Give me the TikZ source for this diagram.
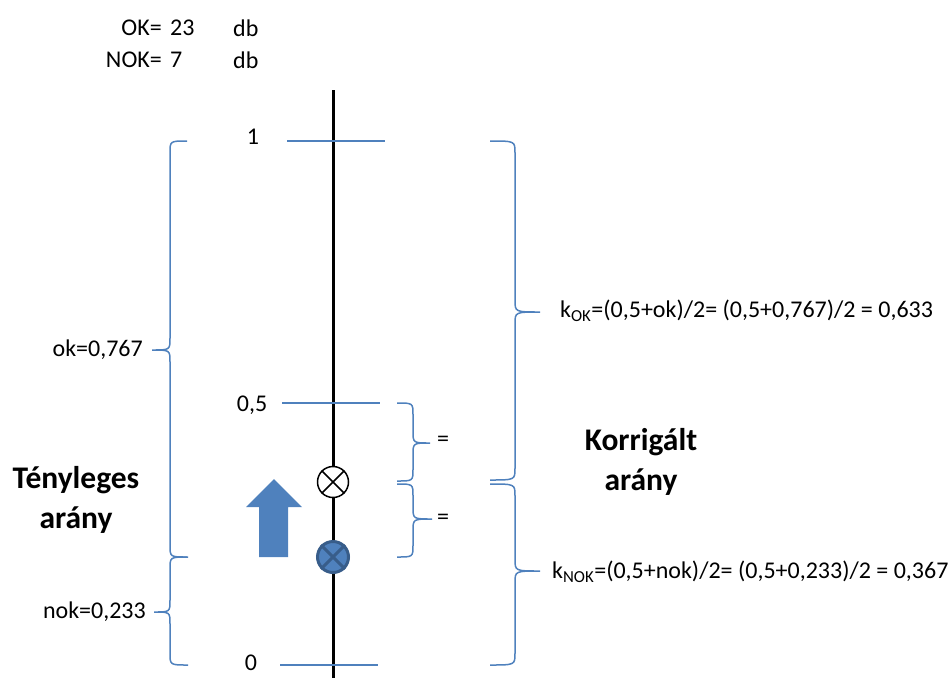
\documentclass[tikz,border=0pt]{standalone}
\usepackage{fontspec}
\setmainfont{Carlito}
\definecolor{obl}{HTML}{4F81BD}
\definecolor{obd}{HTML}{385D8A}
\newcommand\mybrace[6]{% xend xvert xtip ytop ymid ybot
  \draw[brc] (#1,#4) .. controls (#2,#4) .. (#2,{#4+12}) -- (#2,{#5-12})
    .. controls (#2,#5) .. (#3,#5) .. controls (#2,#5) .. (#2,{#5+12})
    -- (#2,{#6-12}) .. controls (#2,#6) .. (#1,#6);}
\begin{document}
\begin{tikzpicture}[x=1pt,y=-1pt,
  brc/.style={draw=obl,line width=1.5pt},
  tick/.style={draw=obl,line width=1.5pt},
  txt/.style={inner sep=0pt,font=\fontsize{24}{29}\selectfont},
  btxt/.style={inner sep=0pt,align=center,font=\fontsize{31.5}{40}\selectfont\bfseries}]
\useasboundingbox (0,0) rectangle (952,678);
% header
\node[txt,anchor=east] (ok) at (162,28) {OK=};
\node[txt,anchor=west] (okn) at (170,28) {23};
\node[txt,anchor=west] (okdb) at (233,28) {db};
\node[txt,anchor=east] (nok) at (162,60) {NOK=};
\node[txt,anchor=west] (nokn) at (170,60) {7};
\node[txt,anchor=west] (nokdb) at (233,60) {db};
% axis
\draw[line width=3pt] (333,90) -- (333,678);
\draw[tick] (287,141) -- (385,141);
\draw[tick] (282,403) -- (380,403);
\draw[tick] (280,665) -- (378,665);
\node[txt] (l1) at (253,137) {1};
\node[txt] (l05) at (252,405) {0,5};
\node[txt] (l0) at (251,663) {0};
% left braces
\mybrace{187}{170}{152}{141}{350}{557}
\mybrace{188}{170}{154}{557}{612}{665}
\node[txt,anchor=east] (okv) at (143,350) {ok=0,767};
\node[txt,anchor=east] (nokv) at (146,612) {nok=0,233};
\node[btxt] (teny) at (76,500) {Tényleges\\arány};
% small braces
\mybrace{397}{413}{430}{403}{443}{481}
\mybrace{397}{413}{432}{484}{519}{557}
\node[txt] (eq1) at (443,441) {=};
\node[txt] (eq2) at (443,519) {=};
% right braces
\mybrace{490}{515}{540}{141}{312}{480}
\mybrace{490}{515}{540}{484}{571}{665}
\node[btxt] (korr) at (641,462) {Korrigált\\arány};
\node[txt,anchor=west] (kok) at (560,311) {k\textsubscript{OK}=(0,5+ok)/2= (0,5+0,767)/2 = 0,633};
\node[txt,anchor=west] (knok) at (552,572) {k\textsubscript{NOK}=(0,5+nok)/2= (0,5+0,233)/2 = 0,367};
% arrow
\fill[obl] (259,557) -- (288,557) -- (288,507) -- (302,507) -- (274,479) -- (246,507) -- (259,507) -- cycle;
% circles
\node[circle,draw=black,fill=white,line width=1.5pt,minimum size=31pt,inner sep=0pt] (c1) at (333,482) {};
\draw[line width=1.5pt] (c1.north east) -- (c1.south west) (c1.north west) -- (c1.south east);
\node[circle,draw=obd,fill=obl,line width=3pt,minimum size=31pt,inner sep=0pt] (c2) at (333,557) {};
\draw[obd,line width=3pt] (c2.north east) -- (c2.south west) (c2.north west) -- (c2.south east);
\end{tikzpicture}
\end{document}
